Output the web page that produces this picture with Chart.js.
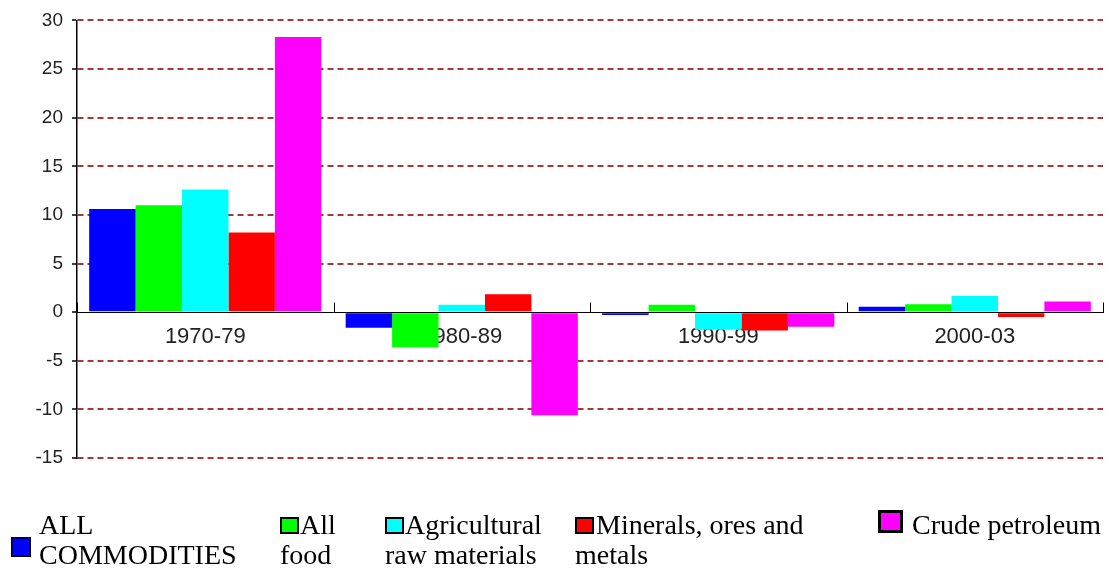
<!DOCTYPE html>
<html>
<head>
<meta charset="utf-8">
<script src="https://cdn.jsdelivr.net/npm/chart.js@4/dist/chart.umd.min.js"></script>
<style>
    body { margin: 0; background: #ffffff; }
    #chartBox { position: relative; width: 1117px; height: 575px; }
</style>
</head>
<body>
<div id="chartBox"><canvas id="barChart"></canvas></div>
<script>
const periods = ['1970-79', '1980-89', '1990-99', '2000-03'];

const seriesNames = ['ALL COMMODITIES', 'All food', 'Agricultural raw materials', 'Minerals, ores and metals', 'Crude petroleum'];

//Legend text as it wraps in the reference.
const legendLines = [
    ['ALL', 'COMMODITIES'],
    ['All', 'food'],
    ['Agricultural', 'raw materials'],
    ['Minerals, ores and', 'metals'],
    ['Crude petroleum']
];

const allCommodities = [10.6, -1.6, -0.3, 0.55];
const allFood = [11.0, -3.6, 0.75, 0.8];
const agriculturalRaw = [12.6, 0.75, -1.8, 1.65];
const mineralsOres = [8.2, 1.85, -1.9, -0.5];
const crudePetroleum = [28.3, -10.6, -1.5, 1.1];

const yTicks = [-15, -10, -5, 0, 5, 10, 15, 20, 25, 30];

const seriesColors = ['#0000ff', '#00ff00', '#00ffff', '#ff0000', '#ff00ff'];

//Legend layout: box rectangle, border, first line x and second line x.
const legendLayout = [
    { bx: 11, by: 537, bw: 20, bh: 20, border: 1.5, tx: 39, tx2: 39 },
    { bx: 280, by: 517, bw: 19, bh: 17, border: 2, tx: 300, tx2: 280 },
    { bx: 385, by: 517, bw: 19, bh: 17, border: 2, tx: 405, tx2: 385 },
    { bx: 575, by: 517, bw: 19, bh: 17, border: 2, tx: 596, tx2: 575 },
    { bx: 878, by: 510, bw: 25, bh: 23, border: 3, tx: 912, tx2: 912 }
];

//Short upward tick marks on the zero line at each category boundary.
const boundaryTicks = {
    id: 'boundaryTicks',
    afterDraw: function (chart) {
        var xScale = chart.scales.x;
        var yScale = chart.scales.y;
        var ctx = chart.ctx;
        var zeroY = Math.round(yScale.getPixelForValue(0)) + 0.5;

        ctx.save();
        ctx.strokeStyle = '#000000';
        ctx.lineWidth = 1;
        ctx.beginPath();
        for (let i = 0; i <= periods.length; i++) {
            var x = Math.round(xScale.getPixelForValue(i - 0.5)) + 0.5;
            ctx.moveTo(x, zeroY);
            ctx.lineTo(x, zeroY - 10);
        }
        ctx.stroke();
        ctx.restore();
    }
};

//Legend under the plot, one column per series, drawn from the datasets.
const seriesLegend = {
    id: 'seriesLegend',
    afterDraw: function (chart) {
        var ctx = chart.ctx;

        ctx.save();
        ctx.font = '28px "Liberation Serif", "Times New Roman", serif';
        ctx.fillStyle = '#000000';
        ctx.textBaseline = 'alphabetic';
        ctx.textAlign = 'left';

        chart.data.datasets.forEach(function (dataSet, i) {
            var item = legendLayout[i];
            var b = item.border;

            ctx.fillStyle = dataSet.backgroundColor;
            ctx.fillRect(item.bx, item.by, item.bw, item.bh);
            ctx.strokeStyle = '#000000';
            ctx.lineWidth = b;
            ctx.strokeRect(item.bx + b / 2, item.by + b / 2, item.bw - b, item.bh - b);

            ctx.fillStyle = '#000000';
            var lines = legendLines[i];
            for (let j = 0; j < lines.length; j++) {
                ctx.fillText(lines[j], j === 0 ? item.tx : item.tx2, 534 + j * 30);
            }
        });

        ctx.restore();
    }
};

function GenerateBarChart() {
    var barChartControl = document.getElementById('barChart');

    var seriesValues = [allCommodities, allFood, agriculturalRaw, mineralsOres, crudePetroleum];

    var dataSets = [];

    for (let i = 0; i < seriesNames.length; i++) {
        dataSets.push({
            label: seriesNames[i],
            data: seriesValues[i],
            backgroundColor: seriesColors[i],
            borderWidth: 0,
            categoryPercentage: 0.905,
            barPercentage: 1.0
        });
    }

    var barChart = new Chart(barChartControl, {
        type: 'bar',
        data: {
            labels: periods,
            datasets: dataSets
        },
        options: {
            responsive: true,
            maintainAspectRatio: false,
            animation: false,
            layout: {
                padding: { top: 20, right: 14, bottom: 117, left: 0 }
            },
            scales: {
                x: {
                    position: { y: 0 },
                    afterFit: function (scale) { scale.height = 0; },
                    grid: {
                        display: true,
                        drawOnChartArea: false,
                        drawTicks: false,
                        offset: true
                    },
                    border: {
                        display: true,
                        color: '#000000',
                        width: 1
                    },
                    ticks: {
                        padding: 12,
                        color: '#222222',
                        font: { family: '"Liberation Sans", Arial, sans-serif', size: 22 }
                    }
                },
                y: {
                    min: -15,
                    max: 30,
                    afterFit: function (scale) { scale.width = 77; },
                    afterBuildTicks: function (scale) {
                        scale.ticks = yTicks.map(function (v) { return { value: v }; });
                    },
                    grid: {
                        color: function (context) {
                            return context.tick && context.tick.value === 0 ? 'rgba(0,0,0,0)' : '#a83838';
                        },
                        lineWidth: 2,
                        tickLength: 5,
                        tickWidth: 1.5,
                        tickColor: '#000000',
                        tickBorderDash: [1, 0]
                    },
                    border: {
                        display: true,
                        color: '#000000',
                        width: 1.5,
                        dash: [6, 4]
                    },
                    ticks: {
                        padding: 9,
                        color: '#222222',
                        font: { family: '"Liberation Sans", Arial, sans-serif', size: 19 }
                    }
                }
            },
            plugins: {
                legend: {
                    display: false
                },
                tooltip: {
                    enabled: false
                }
            }
        },
        plugins: [boundaryTicks, seriesLegend]
    });
}

GenerateBarChart();
</script>
</body>
</html>
